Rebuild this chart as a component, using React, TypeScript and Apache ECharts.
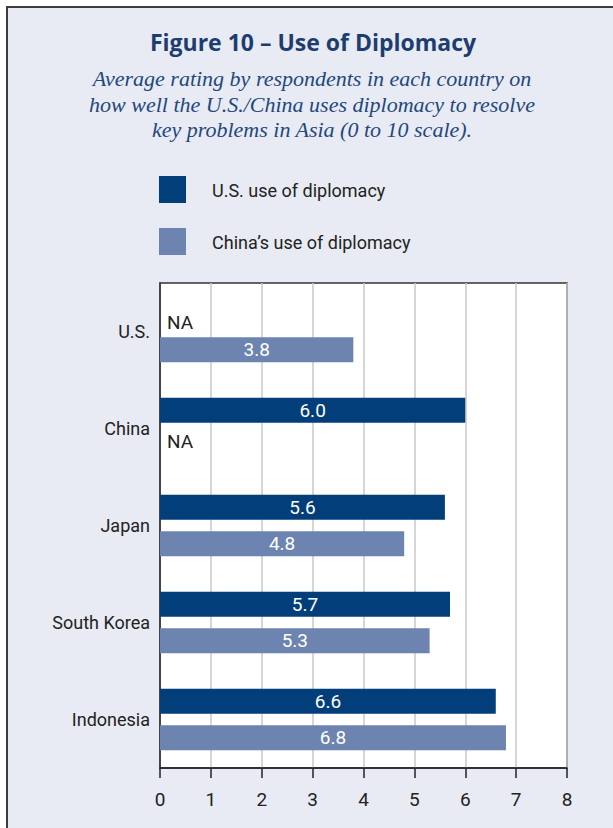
import React, { useEffect, useRef } from "react";
import * as echarts from "echarts";

const categories = ["U.S.", "China", "Japan", "South Korea", "Indonesia"];
const usValues: (number | null)[] = [null, 6.0, 5.6, 5.7, 6.6];
const chinaValues: (number | null)[] = [3.8, null, 4.8, 5.3, 6.8];
const seriesNames = ["U.S. use of diplomacy", "China\u2019s use of diplomacy"];
const xTicks = [0, 1, 2, 3, 4, 5, 6, 7, 8];

const TITLE = "Figure 10 \u2013 Use of Diplomacy";
const SUBTITLE =
  "Average rating by respondents in each country on\nhow well the U.S./China uses diplomacy to resolve\nkey problems in Asia (0 to 10 scale).";

const DARK = "#023e7a";
const LIGHT = "#6d84b1";
const NARROW = "'Liberation Sans Narrow', 'Arial Narrow', Roboto, sans-serif";

function toData(vals: (number | null)[], naOffset: number) {
  return vals.map((v) =>
    v === null
      ? {
          value: 0,
          label: {
            show: true,
            position: "right",
            distance: 7,
            offset: [0, naOffset],
            formatter: "NA",
            color: "#222",
          },
        }
      : { value: v }
  );
}

export default function App() {
  const ref = useRef<HTMLDivElement>(null);
  useEffect(() => {
    document.body.style.margin = "0";
    const chart = echarts.init(ref.current!, null, { renderer: "svg" });
    const labelCfg = {
      show: true,
      position: "inside",
      color: "#fff",
      fontFamily: NARROW,
      fontSize: 19,
      formatter: (p: any) => Number(p.value).toFixed(1),
    };
    chart.setOption({
      animation: false,
      backgroundColor: "transparent",
      graphic: [
        {
          type: "rect",
          z: -10,
          shape: { x: 7, y: 7, width: 640, height: 860 },
          style: { fill: "#e8ebf3", stroke: "#3c3c3c", lineWidth: 2 },
        },
        {
          type: "text",
          x: 313,
          y: 30,
          style: {
            text: TITLE,
            fill: "#1d3d70",
            font: "bold 23px 'Open Sans', 'Noto Sans', sans-serif",
            textAlign: "center",
          },
        },
        {
          type: "text",
          x: 312,
          y: 66,
          style: {
            text: SUBTITLE,
            fill: "#23477f",
            font: "italic 22px 'Liberation Serif', 'DejaVu Serif', serif",
            textAlign: "center",
            lineHeight: 25.5,
          },
        },
        {
          type: "rect",
          shape: { x: 159, y: 176, width: 27, height: 27 },
          style: { fill: DARK },
        },
        {
          type: "rect",
          shape: { x: 159, y: 228, width: 27, height: 27 },
          style: { fill: LIGHT },
        },
        {
          type: "text",
          x: 212,
          y: 190,
          style: {
            text: seriesNames[0],
            fill: "#222",
            font: "18px " + NARROW,
            textVerticalAlign: "middle",
          },
        },
        {
          type: "text",
          x: 212,
          y: 242,
          style: {
            text: seriesNames[1],
            fill: "#222",
            font: "18px " + NARROW,
            textVerticalAlign: "middle",
          },
        },
      ],
      grid: {
        left: 160,
        right: 46,
        top: 283,
        bottom: 60,
        show: true,
        backgroundColor: "#ffffff",
        borderColor: "#333",
        borderWidth: 1.5,
        containLabel: false,
      },
      xAxis: {
        type: "value",
        min: 0,
        max: 8,
        interval: 1,
        axisLine: { show: true, lineStyle: { color: "#222", width: 1.5 } },
        axisTick: { show: true, length: 10, lineStyle: { color: "#222", width: 1.5 } },
        axisLabel: {
          color: "#222",
          fontFamily: NARROW,
          fontSize: 19,
          margin: 22,
          formatter: (v: number) => (xTicks.includes(v) ? String(v) : ""),
        },
        splitLine: { show: true, lineStyle: { color: "#c8c8c8", width: 1.5 } },
      },
      yAxis: {
        type: "category",
        data: categories,
        inverse: true,
        axisLine: { show: true, lineStyle: { color: "#222", width: 1.5 } },
        axisTick: { show: false },
        axisLabel: {
          color: "#222",
          fontFamily: NARROW,
          fontSize: 18,
          margin: 10,
        },
      },
      series: [
        {
          name: seriesNames[0],
          type: "bar",
          data: toData(usValues, 9),
          itemStyle: { color: DARK },
          barWidth: 25,
          barGap: "46%",
          label: labelCfg,
        },
        {
          name: seriesNames[1],
          type: "bar",
          data: toData(chinaValues, -5),
          itemStyle: { color: LIGHT },
          barWidth: 25,
          barGap: "46%",
          label: labelCfg,
        },
      ],
    });
    return () => chart.dispose();
  }, []);
  return (
    <div
      ref={ref}
      style={{ position: "absolute", left: 0, top: 0, width: 613, height: 828 }}
    />
  );
}
